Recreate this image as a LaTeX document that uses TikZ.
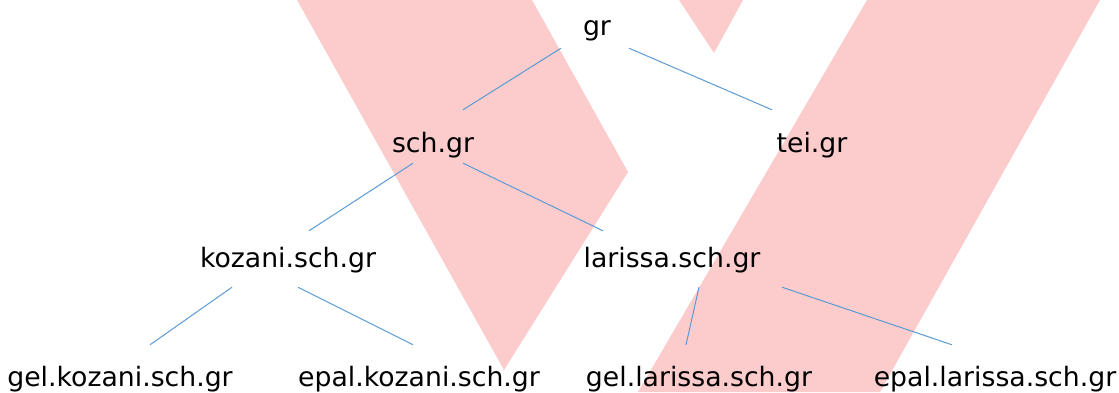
\documentclass[tikz,border=0pt]{standalone}
\usepackage{fontspec}
\setmainfont{DejaVu Sans}
\definecolor{markpink}{RGB}{252,204,205}
\definecolor{linkblue}{RGB}{91,155,213}
\begin{document}
\begin{tikzpicture}[x=1pt,y=1pt,
  dom/.style={anchor=base,inner sep=0pt,text height=20pt,text depth=6pt,
    font=\fontsize{26.7pt}{32pt}\selectfont},
  link/.style={draw=linkblue,line width=1pt}]
  \useasboundingbox (0,0) rectangle (1119,392);

  % Background mark
  \fill[markpink] (297,392) -- (532,392) -- (628,220) -- (504,22) -- cycle;
  \fill[markpink] (679,392) -- (743,392) -- (714,339) -- cycle;
  \fill[markpink] (867,392) -- (1100,392) -- (880,0) -- (638,0) -- cycle;

  % Domains
  \node[dom] (gr) at (597,356) {gr};
  \node[dom] (sch) at (433,240) {sch.gr};
  \node[dom] (tei) at (812,240) {tei.gr};
  \node[dom] (koz) at (288,125) {kozani.sch.gr};
  \node[dom] (lar) at (672,125) {larissa.sch.gr};
  \node[dom] (gelkoz) at (120,6) {gel.kozani.sch.gr};
  \node[dom] (epalkoz) at (419,6) {epal.kozani.sch.gr};
  \node[dom] (gellar) at (699,6) {gel.larissa.sch.gr};
  \node[dom] (epallar) at (995,6) {epal.larissa.sch.gr};

  % Links
  \draw[link] ([shift={(-36,-6)}]gr.south) -- ([shift={(30,22)}]sch.north);
  \draw[link] ([shift={(32,-6)}]gr.south) -- ([shift={(-40,22)}]tei.north);
  \draw[link] ([shift={(-20,-5)}]sch.south) -- ([shift={(21,16)}]koz.north);
  \draw[link] ([shift={(30,-5)}]sch.south) -- ([shift={(-69,16)}]lar.north);
  \draw[link] ([shift={(-56,-14)}]koz.south) -- ([shift={(30,21)}]gelkoz.north);
  \draw[link] ([shift={(10,-14)}]koz.south) -- ([shift={(-6,21)}]epalkoz.north);
  \draw[link] ([shift={(27,-14)}]lar.south) -- ([shift={(-13,21)}]gellar.north);
  \draw[link] ([shift={(110,-14)}]lar.south) -- ([shift={(-43,21)}]epallar.north);
\end{tikzpicture}
\end{document}
